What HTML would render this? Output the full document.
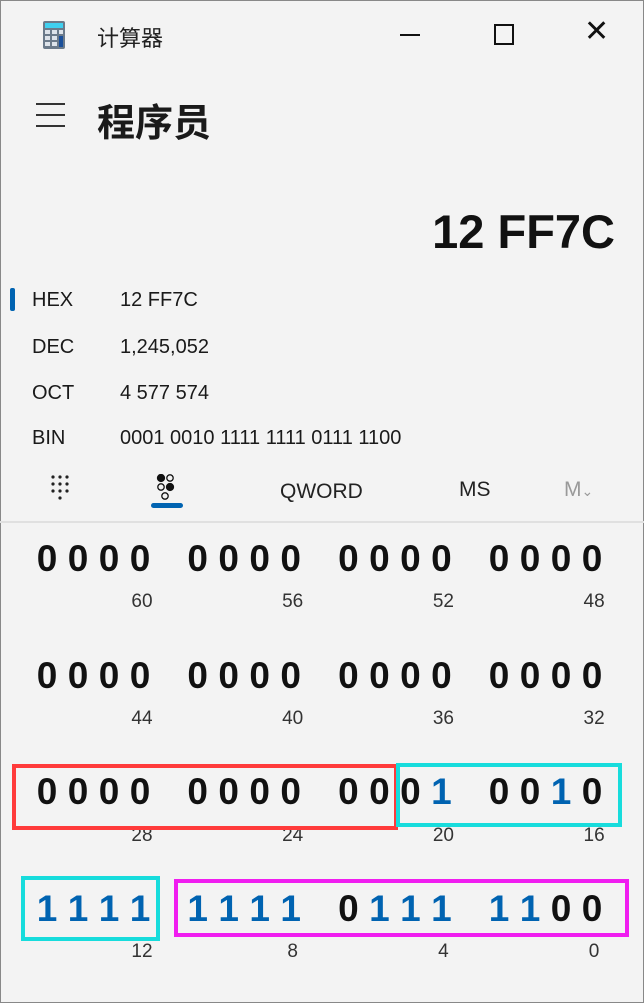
<!DOCTYPE html>
<html><head><meta charset="utf-8"><style>
body{margin:0;width:644px;height:1003px;background:#f3f3f3;font-family:"Liberation Sans","Noto Sans CJK SC",sans-serif;position:relative;overflow:hidden;color:#111}
.a{position:absolute;white-space:nowrap}
.lbl{font-size:20px;color:#1a1a1a}
.bit{position:absolute;font-size:37px;font-weight:bold;width:30px;text-align:center;transform:translate(-50%,-50%)}
.pos{position:absolute;font-size:19px;color:#333;transform:translate(-50%,-50%)}
.box{position:absolute;box-sizing:border-box;border:4px solid}
</style></head><body>
<div class="a" style="left:0;top:0;width:642px;height:1001px;border:1px solid #888"></div>
<svg class="a" style="left:42px;top:21px" width="24" height="28"><rect x="1" y="0" width="22" height="28" rx="2" fill="#6b7a8a"/><rect x="3" y="2" width="18" height="5" fill="#3fd0f0"/><g fill="#dde3ea"><rect x="3" y="9" width="5" height="4"/><rect x="10" y="9" width="5" height="4"/><rect x="3" y="15" width="5" height="4"/><rect x="10" y="15" width="5" height="4"/><rect x="3" y="21" width="5" height="4"/><rect x="10" y="21" width="5" height="4"/><rect x="17" y="9" width="4" height="4"/></g><rect x="17" y="15" width="4" height="11" fill="#1a4f9a"/></svg>
<div class="a" style="left:97px;top:21px;font-size:22px;color:#222">计算器</div>
<div class="a" style="left:400px;top:34px;width:20px;height:2px;background:#111"></div>
<div class="a" style="left:494px;top:24px;width:16px;height:17px;border:2px solid #111"></div>
<div class="a" style="left:584px;top:14px;font-size:30px;color:#111">✕</div>
<div class="a" style="left:36px;top:103px;width:29px;height:24px"><div style="height:2px;background:#333;margin-bottom:9px"></div><div style="height:2px;background:#333;margin-bottom:9px"></div><div style="height:2px;background:#333"></div></div>
<div class="a" style="left:97px;top:92px;font-size:38px;font-weight:bold;color:#1a1a1a">程序员</div>
<div class="a" style="right:29px;top:204px;font-size:47px;font-weight:bold;color:#111">12 FF7C</div>
<div class="a" style="left:10px;top:288px;width:5px;height:23px;background:#0063b1;border-radius:2px"></div>
<div class="a lbl" style="left:32px;top:289px">HEX</div>
<div class="a lbl" style="left:120px;top:289px">12 FF7C</div>
<div class="a lbl" style="left:32px;top:336px">DEC</div>
<div class="a lbl" style="left:120px;top:336px">1,245,052</div>
<div class="a lbl" style="left:32px;top:382px">OCT</div>
<div class="a lbl" style="left:120px;top:382px">4 577 574</div>
<div class="a lbl" style="left:32px;top:427px">BIN</div>
<div class="a lbl" style="left:120px;top:427px">0001 0010 1111 1111 0111 1100</div>
<svg class="a" style="left:50px;top:474px" width="24" height="28"><g fill="#222"><circle cx="3" cy="3" r="1.6"/><circle cx="10" cy="3" r="1.6"/><circle cx="17" cy="3" r="1.6"/><circle cx="3" cy="10" r="1.6"/><circle cx="10" cy="10" r="1.6"/><circle cx="17" cy="10" r="1.6"/><circle cx="3" cy="17" r="1.6"/><circle cx="10" cy="17" r="1.6"/><circle cx="17" cy="17" r="1.6"/><circle cx="10" cy="24" r="1.6"/></g></svg>
<svg class="a" style="left:155px;top:474px" width="26" height="30"><g stroke="#111" stroke-width="1.3"><circle cx="6" cy="4" r="3.5" fill="#111"/><circle cx="15" cy="4" r="3.2" fill="none"/><circle cx="6" cy="13" r="3.2" fill="none"/><circle cx="15" cy="13" r="3.5" fill="#111"/><circle cx="10" cy="22" r="3.2" fill="none"/></g></svg>
<div class="a" style="left:151px;top:503px;width:32px;height:5px;background:#0063b1;border-radius:3px"></div>
<div class="a" style="left:280px;top:480px;font-size:21px;color:#222">QWORD</div>
<div class="a" style="left:459px;top:478px;font-size:21px;color:#222">MS</div>
<div class="a" style="left:564px;top:478px;font-size:21px;color:#999">M<span style="font-size:14px">⌄</span></div>
<div class="a" style="left:0;top:521px;width:644px;height:2px;background:#e0e0e0"></div>
<div id="bits"></div>
<div class="box" style="left:12px;top:764px;width:386px;height:66px;border-color:#ff3b3b"></div>
<div class="box" style="left:396px;top:763px;width:226px;height:64px;border-color:#17dcdc"></div>
<div class="box" style="left:21px;top:876px;width:139px;height:65px;border-color:#17dcdc"></div>
<div class="box" style="left:174px;top:879px;width:455px;height:58px;border-color:#f01df0"></div>
<script>
const bitString = "0000000000000000000000000000000000000000000100101111111101111100";
const rowY = [559, 676, 792, 909];
const labelY = [602, 719, 836, 952];
const root = document.getElementById('bits');
for (let i = 0; i < 64; i++) {
  const row = Math.floor(i / 16), g = Math.floor((i % 16) / 4), d = i % 4;
  const x = 47 + g * 150.7 + d * 31;
  const b = document.createElement('div');
  b.className = 'bit';
  
  
  b.style.left = x + 'px'; b.style.top = rowY[row] + 'px';
  b.style.color = bitString[i] === '1' ? '#0063b1' : '#111';
  b.textContent = bitString[i];
  root.appendChild(b);
  if (d === 3) {
    const l = document.createElement('div');
    l.className = 'pos';
    
    
    l.style.left = (x + 2) + 'px'; l.style.top = labelY[row] + 'px';
    l.textContent = 63 - i;
    root.appendChild(l);
  }
}
</script>
</body></html>
